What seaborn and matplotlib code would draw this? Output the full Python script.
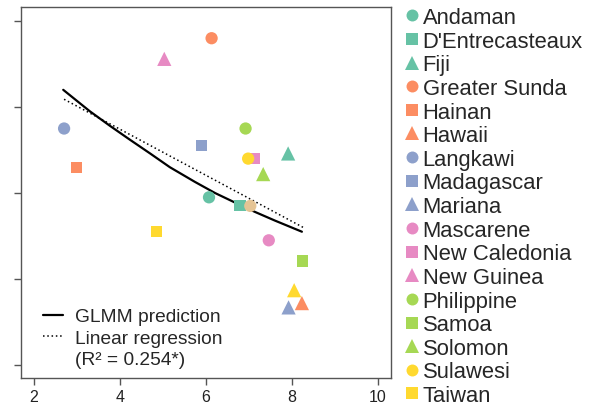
import matplotlib
matplotlib.use("Agg")
import matplotlib.pyplot as plt
from matplotlib.lines import Line2D
import seaborn as sns
import pandas as pd

# ---- data ----
islands = ["Andaman", "D'Entrecasteaux", "Fiji", "Greater Sunda", "Hainan", "Hawaii",
           "Langkawi", "Madagascar", "Mariana", "Mascarene", "New Caledonia", "New Guinea",
           "Philippine", "Samoa", "Solomon", "Sulawesi", "Taiwan",
           "(unlabelled A)", "(unlabelled B)"]
x_vals = [6.07, 6.79, 7.91, 6.13, 2.99, 8.23, 2.70, 5.90, 7.92, 7.46, 7.12, 5.03,
          6.92, 8.24, 7.33, 6.98, 4.85, 8.05, 7.03]
y_vals = [1.95, 1.85, 2.46, 3.80, 2.30, 0.72, 2.75, 2.55, 0.67, 1.45, 2.40, 3.56,
          2.75, 1.21, 2.22, 2.40, 1.55, 0.87, 1.85]
shapes = ["circle", "square", "triangle"] * 6 + ["circle"]
colors = ["#66C2A5"] * 3 + ["#FC8D62"] * 3 + ["#8DA0CB"] * 3 + ["#E78AC3"] * 3 + \
         ["#A6D854"] * 3 + ["#FFD92F"] * 3 + ["#E5C494"]
n_legend = 17  # legend in the reference shows the first 17 entries

glmm_x = [2.68, 3.30, 3.77, 4.23, 4.70, 5.16, 5.74, 6.21, 6.67, 7.14, 7.60, 8.23]
glmm_y = [3.20, 2.95, 2.78, 2.62, 2.46, 2.30, 2.13, 2.00, 1.89, 1.78, 1.68, 1.55]
lin_x = [2.70, 8.26]
lin_y = [3.09, 1.60]

x_ticks = [2, 4, 6, 8, 10]
y_ticks = [0, 1, 2, 3, 4]

# ---- styling ----
sns.set_style("ticks")
plt.rcParams["font.family"] = ["Liberation Sans", "DejaVu Sans"]

df = pd.DataFrame({"island": islands, "x": x_vals, "y": y_vals, "shape": shapes})
palette = dict(zip(islands, colors))
marker_map = {"circle": "o", "square": "s", "triangle": "^"}
size_map = {"circle": 78, "square": 64, "triangle": 105}

fig = plt.figure(figsize=(5.92, 4.10), dpi=100)
ax = fig.add_axes([20.7 / 592, 1 - 379 / 410, 370.3 / 592, 371 / 410])

sns.lineplot(x=glmm_x, y=glmm_y, ax=ax, color="black", linewidth=1.6, sort=True)
sns.lineplot(x=lin_x, y=lin_y, ax=ax, color="black", linewidth=1.1, linestyle=(0, (1.0, 1.8)))

sns.scatterplot(data=df, x="x", y="y", hue="island", palette=palette,
                style="shape", markers=marker_map, size="shape", sizes=size_map,
                linewidth=0, ax=ax, legend=False, zorder=3)

ax.set_xlim(1.691, 10.302)
ax.set_ylim(-0.151, 4.163)
ax.set_xticks(x_ticks)
ax.set_xticklabels([str(t) for t in x_ticks], fontsize=11.5, color="#222222")
ax.set_yticks(y_ticks)
ax.set_yticklabels([])
ax.set_xlabel("")
ax.set_ylabel("")
for sp in ax.spines.values():
    sp.set_visible(True)
    sp.set_color("#555555")
    sp.set_linewidth(1.0)
ax.tick_params(axis="both", length=5, width=1, color="#555555", pad=3)

# in-plot legend
h1 = Line2D([], [], color="black", linewidth=1.6)
h2 = Line2D([], [], color="black", linewidth=1.1, linestyle=(0, (1.0, 1.8)))
h3 = Line2D([], [], color="none")
leg1 = ax.legend([h1, h2, h3], ["GLMM prediction", "Linear regression", "(R² = 0.254*)"],
                 loc="lower left", bbox_to_anchor=(22 / 370.3, 10 / 371), frameon=False,
                 fontsize=13.8, handlelength=1.05, handletextpad=0.65,
                 labelspacing=0.2, borderpad=0, borderaxespad=0)

# right legend
handles = []
for i in range(n_legend):
    handles.append(Line2D([], [], linestyle="none", marker=marker_map[shapes[i]],
                          markersize={"circle": 8.6, "square": 8.0, "triangle": 10.5}[shapes[i]],
                          markerfacecolor=colors[i], markeredgewidth=0))
fig.legend(handles, islands[:n_legend], loc="upper left",
           bbox_to_anchor=(405 / 592, 1 - 8 / 410), frameon=False,
           fontsize=15.8, handlelength=0.6, handletextpad=0.2,
           labelspacing=0.12, borderpad=0, borderaxespad=0)

fig.savefig("out.png", dpi=100)
